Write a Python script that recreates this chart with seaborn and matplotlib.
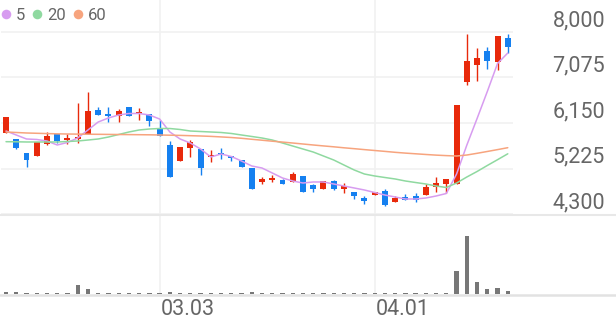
import numpy as np
import pandas as pd
import matplotlib
matplotlib.use("Agg")
import matplotlib.pyplot as plt
import matplotlib.transforms as mtransforms
from matplotlib.lines import Line2D
import seaborn as sns

# ---------------- data ----------------
open_ = [5941, 5819, 5534, 5479, 5717, 5920, 5804, 5831, 5920, 6414,
         6333, 6299, 6470, 6323, 6333, 6055, 5703, 5384, 5642, 5621,
         5465, 5547, 5485, 5398, 5229, 4951, 4991, 4991, 4944, 5073,
         4890, 4802, 4971, 4802, 4753, 4619, 4680, 4768, 4550, 4652,
         4666, 4686, 4855, 4904, 4910, 6990, 7319, 7620, 7396, 7872]
high = [6278, 5830, 5534, 5770, 5977, 5920, 5926, 6550, 6787, 6470,
        6482, 6428, 6470, 6449, 6333, 6211, 5794, 5652, 5804, 5621,
        5591, 5636, 5485, 5398, 5229, 5058, 5093, 5005, 5160, 5073,
        4910, 4965, 4991, 4924, 4753, 4660, 4741, 4802, 4666, 4707,
        4733, 4904, 5058, 5005, 6516, 7959, 7681, 7701, 7919, 7959]
low = [5941, 5620, 5249, 5479, 5703, 5737, 5723, 5737, 5920, 6313,
       6177, 6177, 6299, 6211, 6096, 5886, 5046, 5384, 5465, 5093,
       5367, 5414, 5384, 5262, 4808, 4910, 4957, 4904, 4944, 4753,
       4741, 4802, 4788, 4721, 4599, 4503, 4680, 4463, 4550, 4585,
       4550, 4686, 4753, 4721, 4910, 6923, 7004, 7242, 7228, 7567]
close = [6278, 5636, 5398, 5770, 5892, 5790, 5851, 5872, 6394, 6313,
         6292, 6394, 6299, 6360, 6191, 5886, 5046, 5652, 5764, 5229,
         5506, 5493, 5445, 5262, 4808, 5012, 5026, 4904, 5113, 4753,
         4802, 4965, 4815, 4869, 4672, 4564, 4741, 4483, 4632, 4585,
         4585, 4855, 4924, 5005, 6516, 7410, 7468, 7417, 7919, 7685]
volume = [200, 170, 100, 100, 100, 90, 100, 950, 480, 120,
          100, 100, 100, 90, 100, 90, 160, 110, 90, 100,
          90, 100, 90, 100, 170, 100, 90, 100, 90, 100,
          90, 90, 100, 90, 100, 90, 90, 100, 90, 90,
          90, 90, 100, 110, 2350, 5800, 1200, 500, 600, 300]
ma5 = [5987, 5906, 5825, 5815, 5784, 5703, 5754, 5845, 6008, 6170,
       6252, 6313, 6343, 6343, 6313, 6231, 5967, 5825, 5743, 5621,
       5459, 5520, 5469, 5377, 5276, 5235, 5134, 5032, 4971, 4930,
       4951, 4951, 4910, 4869, 4829, 4788, 4737, 4686, 4646, 4605,
       4605, 4625, 4666, 4717, 5113, 5700, 6240, 6790, 7360, 7573]
ma20 = [5770, 5768, 5764, 5764, 5764, 5764, 5774, 5784, 5804, 5825,
        5865, 5916, 5967, 6008, 6028, 6038, 6038, 6018, 5987, 5977,
        5967, 5957, 5937, 5906, 5876, 5845, 5804, 5743, 5682, 5621,
        5560, 5479, 5398, 5296, 5195, 5113, 5073, 5042, 5012, 4971,
        4940, 4910, 4869, 4839, 4930, 5052, 5164, 5286, 5404, 5524]
ma60 = [5967, 5957, 5947, 5941, 5935, 5930, 5926, 5924, 5922, 5920,
        5918, 5916, 5914, 5912, 5910, 5906, 5902, 5898, 5892, 5886,
        5878, 5867, 5855, 5839, 5819, 5800, 5780, 5762, 5743, 5723,
        5703, 5684, 5666, 5646, 5628, 5609, 5591, 5573, 5554, 5538,
        5524, 5510, 5497, 5487, 5479, 5499, 5534, 5571, 5609, 5648]
ma_labels = ["5", "20", "60"]
y_ticks = [4300, 5225, 6150, 7075, 8000]
y_tick_labels = ["4,300", "5,225", "6,150", "7,075", "8,000"]
date_pos = [15, 36]
date_labels = ["03.03", "04.01"]

# ---------------- style ----------------
RED = "#e8290b"
BLUE = "#1580f0"
MA_COLORS = ["#d79cf0", "#8fd9a0", "#f7a47e"]
GRID = "#f1f1f1"
TXT = "#666666"

sns.set_theme(style="white")
plt.rcParams["font.family"] = ["Roboto", "DejaVu Sans"]

W, H = 616, 321
fig = plt.figure(figsize=(W / 100, H / 100), dpi=100)
fig.patch.set_facecolor("white")
left = 0.9 / W
width = 512 / W
axp = fig.add_axes([left, (H - 214) / H, width, 214 / H])
axv = fig.add_axes([left, (H - 294) / H, width, 79 / H])

n = len(close)
idx = np.arange(n)

# ---------------- moving averages ----------------
ma_df = pd.DataFrame({"idx": idx, ma_labels[0]: ma5, ma_labels[1]: ma20, ma_labels[2]: ma60})
ma_long = ma_df.melt(id_vars="idx", var_name="ma", value_name="price")
sns.lineplot(data=ma_long, x="idx", y="price", hue="ma", hue_order=ma_labels,
             palette=MA_COLORS, estimator=None, legend=False, linewidth=1.1,
             ax=axp, zorder=4)

# ---------------- candles ----------------
o = np.array(open_, float)
c = np.array(close, float)
colors = [RED if cc >= oo else BLUE for oo, cc in zip(o, c)]
px = 925 / 45.5  # price units per pixel
bottoms = np.minimum(o, c)
heights = np.maximum(np.abs(c - o), 2 * px)
axp.vlines(idx, low, high, colors=colors, linewidth=1.0, zorder=3)
axp.bar(idx, heights, bottom=bottoms, width=0.58, color=colors, linewidth=0, zorder=3)

# ---------------- volume ----------------
vol_df = pd.DataFrame({"idx": idx, "volume": volume})
sns.barplot(data=vol_df, x="idx", y="volume", color="#777777", saturation=1,
            width=0.42, errorbar=None, ax=axv, zorder=3, linewidth=0)

# ---------------- axes cosmetics ----------------
for ax in (axp, axv):
    ax.set_xlim(-0.5, n - 0.5)
    for s in ax.spines.values():
        s.set_visible(False)
    ax.set_xlabel("")
    ax.set_ylabel("")
    ax.set_facecolor("none")
    ax.set_axisbelow(True)
    ax.tick_params(length=0, labelleft=False, labelbottom=False,
                   labelright=False, labeltop=False)
    ax.set_xticks(date_pos)

axp.set_ylim(4300, 4300 + 214 * px)
axp.set_yticks(y_ticks)
axp.grid(True, color=GRID, linewidth=1.2)
axv.set_ylim(0, 7900)
axv.set_yticks([])
axv.grid(True, axis="x", color=GRID, linewidth=1.2)

# separator and volume baseline across the full width
fig.add_artist(Line2D([0, 1], [1 - 214.5 / H] * 2, transform=fig.transFigure,
                      color="#e8e8e8", linewidth=1.5))
fig.add_artist(Line2D([0, 1], [1 - 294.5 / H] * 2, transform=fig.transFigure,
                      color="#e2e2e2", linewidth=1.8))

# y labels on the right
ytrans = mtransforms.blended_transform_factory(fig.transFigure, axp.transData)
ytrans = mtransforms.offset_copy(ytrans, fig=fig, x=0, y=6, units="dots")
for v, lab in zip(y_ticks, y_tick_labels):
    axp.text(605 / W, v, lab, transform=ytrans, ha="right", va="baseline",
             fontsize=15.5, color=TXT, clip_on=False)

# date labels
xtrans = mtransforms.blended_transform_factory(axv.transData, fig.transFigure)
xtrans = mtransforms.offset_copy(xtrans, fig=fig, x=1, y=0, units="dots")
for p, lab in zip(date_pos, date_labels):
    axv.text(p, 1 - 320 / H, lab, transform=xtrans, ha="left", va="bottom",
             fontsize=15.5, color=TXT, clip_on=False)

# legend
handles = [Line2D([], [], marker="o", linestyle="", color=col, markersize=6.9,
                  markeredgewidth=0) for col in MA_COLORS]
axp.legend(handles, ma_labels, ncol=3, loc="upper left",
           bbox_to_anchor=(0, 1 - 8 / 214), frameon=False, fontsize=12,
           handlelength=0.6, handletextpad=0.32, columnspacing=0.4,
           borderpad=0, borderaxespad=0, labelcolor=TXT)

fig.savefig("out.png", dpi=100)
